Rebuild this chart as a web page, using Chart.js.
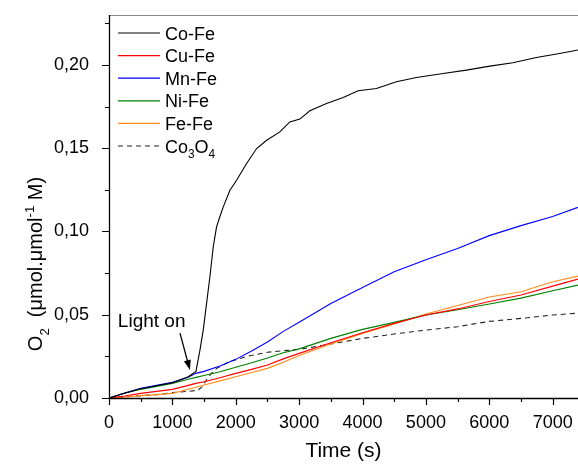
<!DOCTYPE html>
<html>
<head>
<meta charset="utf-8">
<script src="https://cdn.jsdelivr.net/npm/chart.js@4.4.1/dist/chart.umd.min.js"></script>
<style>
html, body { margin: 0; padding: 0; background: #fff; }
#wrap { width: 578px; height: 464px; }
</style>
</head>
<body>
<div id="wrap"><canvas id="chart" width="578" height="464"></canvas></div>
<script>
const FONT = "'Liberation Sans', Arial, sans-serif";

// time grid (s) shared by most curves
const timeCommon = [0, 250, 500, 750, 1000, 1250, 1370, 1500, 1750, 2000, 2250, 2500, 2750, 3000, 3500, 4000, 4500, 5000, 5500, 6000, 6500, 7000, 7400];

const mnFe = [0, 0.0030, 0.0058, 0.0076, 0.0094, 0.0125, 0.0148, 0.0160, 0.0192, 0.0232, 0.0282, 0.0336, 0.0400, 0.0455, 0.0568, 0.0664, 0.0758, 0.0830, 0.0898, 0.0975, 0.1035, 0.1090, 0.1145];
const niFe = [0, 0.0028, 0.0052, 0.0070, 0.0088, 0.0113, 0.0124, 0.0135, 0.0158, 0.0185, 0.0212, 0.0240, 0.0272, 0.0295, 0.0358, 0.0412, 0.0454, 0.0498, 0.0530, 0.0564, 0.0600, 0.0644, 0.0678];
const cuFe = [0, 0.0012, 0.0028, 0.0040, 0.0052, 0.0076, 0.0088, 0.0098, 0.0122, 0.0148, 0.0172, 0.0198, 0.0235, 0.0268, 0.0332, 0.0392, 0.0448, 0.0498, 0.0535, 0.0580, 0.0618, 0.0672, 0.0714];
const feFe = [0, 0.0006, 0.0014, 0.0020, 0.0028, 0.0052, 0.0064, 0.0078, 0.0103, 0.0128, 0.0153, 0.0178, 0.0215, 0.0255, 0.0324, 0.0388, 0.0444, 0.0504, 0.0555, 0.0607, 0.0638, 0.0698, 0.0732];

const timeCoFe = [0, 250, 500, 750, 1000, 1250, 1372, 1435, 1487, 1540, 1592, 1645, 1697, 1750, 1803, 1908, 2013, 2171, 2329, 2487, 2696, 2853, 3011, 3169, 3432, 3695, 3931, 4220, 4535, 4851, 5271, 5639, 6007, 6374, 6743, 7110, 7400];
const coFe = [0, 0.0030, 0.0056, 0.0074, 0.0092, 0.0128, 0.0160, 0.0288, 0.0408, 0.0570, 0.0728, 0.0908, 0.1028, 0.1090, 0.1148, 0.1248, 0.1308, 0.1408, 0.1498, 0.1548, 0.1598, 0.1658, 0.1675, 0.1725, 0.1768, 0.1805, 0.1845, 0.1859, 0.1899, 0.1925, 0.1949, 0.1969, 0.1993, 0.2013, 0.2045, 0.2069, 0.2090];

const timeCo3O4 = [0, 250, 500, 750, 1000, 1250, 1400, 1480, 1550, 1620, 1700, 1900, 2200, 2500, 2750, 3000, 3500, 4000, 4500, 5000, 5500, 6000, 6500, 7000, 7400];
const co3o4 = [0, 0.0006, 0.0014, 0.0020, 0.0032, 0.0040, 0.0046, 0.0070, 0.0118, 0.0150, 0.0178, 0.0218, 0.0252, 0.0275, 0.0284, 0.0292, 0.0324, 0.0358, 0.0384, 0.0408, 0.0428, 0.0460, 0.0478, 0.0498, 0.0510];

const xTicks = [0, 1000, 2000, 3000, 4000, 5000, 6000, 7000];
const xMinor = [500, 1500, 2500, 3500, 4500, 5500, 6500];
const yTicks = [0, 0.05, 0.10, 0.15, 0.20];
const yMinor = [0.025, 0.075, 0.125, 0.175, 0.225];

const pts = (ts, vs) => ts.map((t, i) => ({ x: t, y: vs[i] }));

// label parts for rich text (n = normal, sub = subscript)
const legendParts = [
  [['Co-Fe', 'n']],
  [['Cu-Fe', 'n']],
  [['Mn-Fe', 'n']],
  [['Ni-Fe', 'n']],
  [['Fe-Fe', 'n']],
  [['Co', 'n'], ['3', 'sub'], ['O', 'n'], ['4', 'sub']]
];

function drawRich(ctx, parts, x, y, size, align) {
  const sz = { n: size, sub: size * 0.66, sup: size * 0.66 };
  const sh = { n: 0, sub: size * 0.33, sup: -size * 0.42 };
  let total = 0;
  parts.forEach(([t, k]) => { ctx.font = sz[k] + 'px ' + FONT; total += ctx.measureText(t).width; });
  let cx = align === 'center' ? x - total / 2 : x;
  ctx.textAlign = 'left';
  ctx.textBaseline = 'alphabetic';
  parts.forEach(([t, k]) => {
    ctx.font = sz[k] + 'px ' + FONT;
    ctx.fillText(t, cx, y + sh[k]);
    cx += ctx.measureText(t).width;
  });
}

const decor = {
  id: 'decor',
  afterDatasetsDraw(chart) {
    const { ctx, chartArea: a, scales: { x, y } } = chart;
    ctx.save();
    ctx.fillStyle = '#000';

    // top frame line
    ctx.strokeStyle = '#888';
    ctx.lineWidth = 1;
    ctx.beginPath();
    ctx.moveTo(a.left, a.top + 0.5);
    ctx.lineTo(a.right, a.top + 0.5);
    ctx.stroke();

    // axes
    ctx.strokeStyle = '#000';
    ctx.lineWidth = 1.3;
    ctx.beginPath();
    ctx.moveTo(a.left + 0.5, a.top);
    ctx.lineTo(a.left + 0.5, a.bottom + 0.5);
    ctx.lineTo(a.right, a.bottom + 0.5);
    ctx.stroke();

    // tick marks
    ctx.lineWidth = 1.2;
    ctx.beginPath();
    xTicks.forEach(v => { const px = Math.round(x.getPixelForValue(v)) + 0.5; ctx.moveTo(px, a.bottom); ctx.lineTo(px, a.bottom + 7); });
    xMinor.forEach(v => { const px = Math.round(x.getPixelForValue(v)) + 0.5; ctx.moveTo(px, a.bottom); ctx.lineTo(px, a.bottom + 4); });
    yTicks.forEach(v => { const py = Math.round(y.getPixelForValue(v)) + 0.5; ctx.moveTo(a.left, py); ctx.lineTo(a.left - 7, py); });
    yMinor.forEach(v => { const py = Math.round(y.getPixelForValue(v)) + 0.5; ctx.moveTo(a.left, py); ctx.lineTo(a.left - 4, py); });
    ctx.stroke();

    // legend inside plot
    chart.data.datasets.forEach((ds, i) => {
      const ry = a.top + 18 + i * 22.6;
      ctx.strokeStyle = ds.borderColor;
      ctx.lineWidth = 1.2;
      ctx.setLineDash(ds.borderDash || []);
      ctx.beginPath();
      ctx.moveTo(a.left + 9, ry);
      ctx.lineTo(a.left + 51, ry);
      ctx.stroke();
      ctx.setLineDash([]);
      drawRich(ctx, legendParts[i], a.left + 56, ry + 6.5, 18, 'left');
    });

    // "Light on" note with arrow
    ctx.font = '19px ' + FONT;
    ctx.textAlign = 'left';
    ctx.textBaseline = 'alphabetic';
    ctx.fillText('Light on', x.getPixelForValue(140), y.getPixelForValue(0.0426));
    const x0 = x.getPixelForValue(1120), y0 = y.getPixelForValue(0.039);
    const x1 = x.getPixelForValue(1277), y1 = y.getPixelForValue(0.0168);
    const ang = Math.atan2(y1 - y0, x1 - x0);
    ctx.strokeStyle = '#000';
    ctx.lineWidth = 1.3;
    ctx.beginPath();
    ctx.moveTo(x0, y0);
    ctx.lineTo(x1 - 8 * Math.cos(ang), y1 - 8 * Math.sin(ang));
    ctx.stroke();
    ctx.beginPath();
    ctx.moveTo(x1, y1);
    ctx.lineTo(x1 - 10 * Math.cos(ang) + 3.5 * Math.sin(ang), y1 - 10 * Math.sin(ang) - 3.5 * Math.cos(ang));
    ctx.lineTo(x1 - 10 * Math.cos(ang) - 3.5 * Math.sin(ang), y1 - 10 * Math.sin(ang) + 3.5 * Math.cos(ang));
    ctx.closePath();
    ctx.fill();

    // y axis title
    ctx.save();
    ctx.translate(42, 264);
    ctx.rotate(-Math.PI / 2);
    drawRich(ctx, [['O', 'n'], ['2', 'sub'], ['  (\u03BCmol.\u03BCmol', 'n'], ['-1', 'sup'], [' M)', 'n']], 0, 0, 20, 'center');
    ctx.restore();

    ctx.restore();
  }
};

const ctx = document.getElementById('chart').getContext('2d');
new Chart(ctx, {
  type: 'line',
  data: {
    datasets: [
      { label: 'Co-Fe', data: pts(timeCoFe, coFe), borderColor: '#000000' },
      { label: 'Cu-Fe', data: pts(timeCommon, cuFe), borderColor: '#ff0000' },
      { label: 'Mn-Fe', data: pts(timeCommon, mnFe), borderColor: '#0000ff' },
      { label: 'Ni-Fe', data: pts(timeCommon, niFe), borderColor: '#008000' },
      { label: 'Fe-Fe', data: pts(timeCommon, feFe), borderColor: '#ff8c1a' },
      { label: 'Co3O4', data: pts(timeCo3O4, co3o4), borderColor: '#222222', borderDash: [5, 4] }
    ]
  },
  options: {
    responsive: false,
    animation: false,
    layout: { padding: { top: 15, right: 0, left: 0, bottom: 0 } },
    elements: {
      line: { borderWidth: 1.1, tension: 0, fill: false },
      point: { radius: 0 }
    },
    plugins: { legend: { display: false }, tooltip: { enabled: false } },
    scales: {
      x: {
        type: 'linear',
        min: 0,
        max: 7400,
        afterBuildTicks: s => { s.ticks = xTicks.map(v => ({ value: v })); },
        afterFit: s => { s.height = 66; s.paddingLeft = 0; s.paddingRight = 0; },
        grid: { display: false },
        border: { display: false },
        ticks: { color: '#000', font: { family: FONT, size: 18 }, padding: 6, maxRotation: 0, autoSkip: false, callback: v => String(v) },
        title: { display: true, text: 'Time (s)', color: '#000', font: { family: FONT, size: 21 }, padding: 0 }
      },
      y: {
        min: 0,
        max: 0.23,
        afterBuildTicks: s => { s.ticks = yTicks.map(v => ({ value: v })); },
        afterFit: s => { s.width = 109; s.paddingTop = 0; s.paddingBottom = 0; },
        grid: { display: false },
        border: { display: false },
        ticks: { color: '#000', font: { family: FONT, size: 18 }, padding: 12, callback: v => v.toFixed(2).replace('.', ',') }
      }
    }
  },
  plugins: [decor]
});
</script>
</body>
</html>
